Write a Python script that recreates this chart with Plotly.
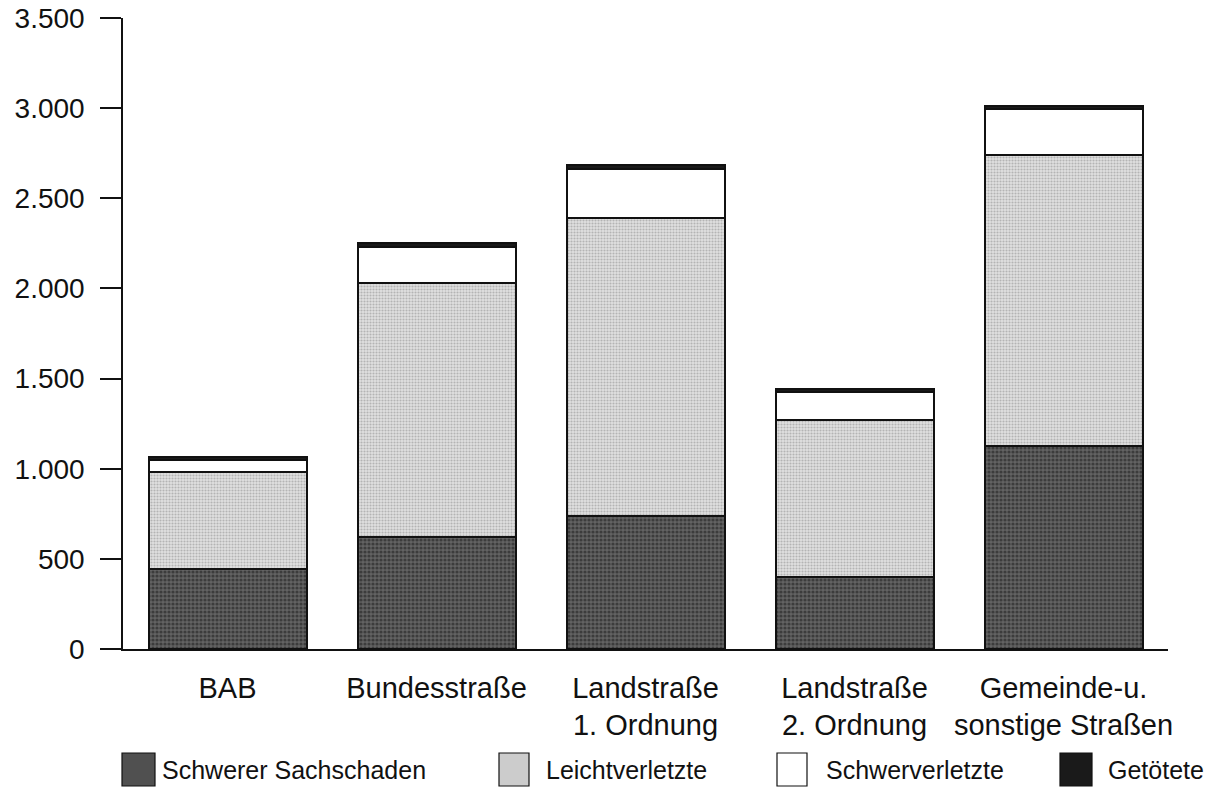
import plotly.graph_objects as go

categories = ["BAB", "Bundesstraße", "Landstraße<br>1. Ordnung", "Landstraße<br>2. Ordnung", "Gemeinde-u.<br>sonstige Straßen"]
schwerer_sachschaden = [442, 620, 740, 400, 1125]
leichtverletzte = [538, 1410, 1650, 868, 1615]
schwerverletzte = [68, 200, 270, 158, 255]
getoetete = [15, 20, 22, 18, 17]
series_names = ["Schwerer Sachschaden", "Leichtverletzte", "Schwerverletzte", "Getötete"]
y_tickvals = [0, 500, 1000, 1500, 2000, 2500, 3000, 3500]
y_ticktext = ["0", "500", "1.000", "1.500", "2.000", "2.500", "3.000", "3.500"]

# page body margin is removed below, so the figure starts at (0, 0)
W, H = 1223, 789
L, R, T, B = 123, 55, 18, 140
FONT = "Liberation Sans, Arial, sans-serif"
INK = "#111111"

fig = go.Figure()
styles = [
    dict(color="#505050", pattern=dict(shape=".", fgcolor="#161616", bgcolor="#626262", size=4, solidity=0.5)),
    dict(color="#cccccc", pattern=dict(shape=".", fgcolor="#888888", bgcolor="#e0e0e0", size=3, solidity=0.4)),
    dict(color="#ffffff"),
    dict(color="#1a1a1a"),
]
for name, vals, st in zip(series_names, [schwerer_sachschaden, leichtverletzte, schwerverletzte, getoetete], styles):
    fig.add_trace(go.Bar(x=categories, y=vals, name=name,
                         marker=dict(line=dict(color=INK, width=2), **st)))

fig.update_layout(
    width=W, height=H, barmode="stack", bargap=0.244,
    margin=dict(l=L, r=R, t=T, b=B, autoexpand=False),
    plot_bgcolor="white", paper_bgcolor="white",
    showlegend=False,
    font=dict(family=FONT, color=INK),
)
fig.update_yaxes(range=[0, 3500], tickvals=y_tickvals, ticktext=y_ticktext,
                 showgrid=False, zeroline=False, showline=True, linecolor=INK, linewidth=1.5,
                 ticks="outside", ticklen=21, tickwidth=1.5, tickcolor=INK,
                 tickfont=dict(size=28, family=FONT, color=INK), ticklabelstandoff=10,
                 ticklabeloverflow="allow")
fig.update_xaxes(showgrid=False, showline=True, linecolor=INK, linewidth=1.5,
                 ticks="", tickfont=dict(size=29, family=FONT, color=INK), ticklabelstandoff=12)

# custom legend (swatches + text) below the plot, positions in screen pixels
pw, ph = W - L - R, H - T - B
def px_x(x): return (x - L) / pw
def px_y(y): return (H - B - y) / ph

legend_items = [
    (122, 155, 160, styles[0]["color"]),
    (499, 529, 544, styles[1]["color"]),
    (777, 807, 824, "#ffffff"),
    (1060, 1092, 1106, "#1a1a1a"),
]
for (x0, x1, tx, col), name in zip(legend_items, series_names):
    fig.add_shape(type="rect", xref="paper", yref="paper",
                  x0=px_x(x0), x1=px_x(x1), y0=px_y(786), y1=px_y(753),
                  fillcolor=col, line=dict(color=INK, width=1.2))
    fig.add_annotation(xref="paper", yref="paper", x=px_x(tx), y=px_y(770),
                       text=name, showarrow=False, xanchor="left", yanchor="middle",
                       font=dict(size=25, family=FONT, color=INK))

fig.write_html("out.html", config={"displayModeBar": False},
               post_script="document.body.style.margin='0px';")
